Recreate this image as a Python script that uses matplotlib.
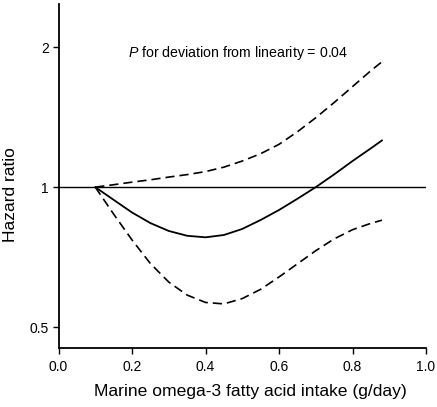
""" Hazard ratio vs marine omega-3 intake (spline with 95% CI)
"""
import matplotlib
matplotlib.use('Agg')
import matplotlib.pyplot as plt
from matplotlib.ticker import FixedLocator, NullLocator, FixedFormatter

plt.rcParams['font.family'] = ['Liberation Sans', 'DejaVu Sans']
plt.rcParams['mathtext.fontset'] = 'custom'
plt.rcParams['mathtext.rm'] = 'Liberation Sans'
plt.rcParams['mathtext.it'] = 'Liberation Sans:italic'

# data
intake = [0.10, 0.15, 0.20, 0.25, 0.30, 0.35, 0.40, 0.45, 0.50,
          0.55, 0.60, 0.65, 0.70, 0.75, 0.80, 0.85, 0.88]
hr = [1.000, 0.939, 0.882, 0.837, 0.805, 0.786, 0.780, 0.789, 0.813,
      0.850, 0.893, 0.944, 1.000, 1.065, 1.138, 1.212, 1.260]
ci_low = [1.000, 0.875, 0.770, 0.685, 0.625, 0.586, 0.565, 0.561, 0.576,
          0.603, 0.641, 0.684, 0.730, 0.774, 0.810, 0.836, 0.849]
ci_up = [1.000, 1.012, 1.025, 1.037, 1.051, 1.064, 1.080, 1.104, 1.138,
         1.180, 1.236, 1.315, 1.410, 1.520, 1.645, 1.780, 1.860]
yticks = [0.5, 1, 2]
ytick_labels = ['0.5', '1', '2']
xticks = [0.0, 0.2, 0.4, 0.6, 0.8, 1.0]
note = r'$\it{P}$ for deviation from linearity = 0.04'

fig = plt.figure(figsize=(4.37, 4.07), dpi=100)
ax = fig.add_axes([0.1339, 0.145, 0.841, 0.845])

ax.axhline(1.0, color='k', lw=1.0)
ax.plot(intake, hr, 'k-', lw=1.3)
ax.plot(intake, ci_low, 'k--', lw=1.2, dashes=(5.5, 3))
ax.plot(intake, ci_up, 'k--', lw=1.2, dashes=(5.5, 3))

ax.set_yscale('log')
ax.set_ylim(0.451, 2.475)
ax.set_xlim(0.0, 1.0)
ax.yaxis.set_major_locator(FixedLocator(yticks))
ax.yaxis.set_major_formatter(FixedFormatter(ytick_labels))
ax.yaxis.set_minor_locator(NullLocator())
ax.set_xticks(xticks)
ax.set_xticklabels(['%.1f' % v for v in xticks])

for s in ['top', 'right']:
    ax.spines[s].set_visible(False)
for s in ['left', 'bottom']:
    ax.spines[s].set_linewidth(1.3)
ax.tick_params(direction='out', length=4, width=1, labelsize=10)
ax.tick_params(axis='x', pad=5)
ax.tick_params(axis='y', pad=3)

ax.text(0.19, 1.94, note, fontsize=10.2, ha='left', va='center')

ax.set_xlabel('Marine omega-3 fatty acid intake (g/day)', fontsize=12.6)
ax.xaxis.set_label_coords(0.522, -0.106)
ax.set_ylabel('Hazard ratio', fontsize=12.5)
ax.yaxis.label.set_va('center')
ax.yaxis.set_label_coords(-0.132, 0.445)

fig.savefig('out.png', dpi=100)
